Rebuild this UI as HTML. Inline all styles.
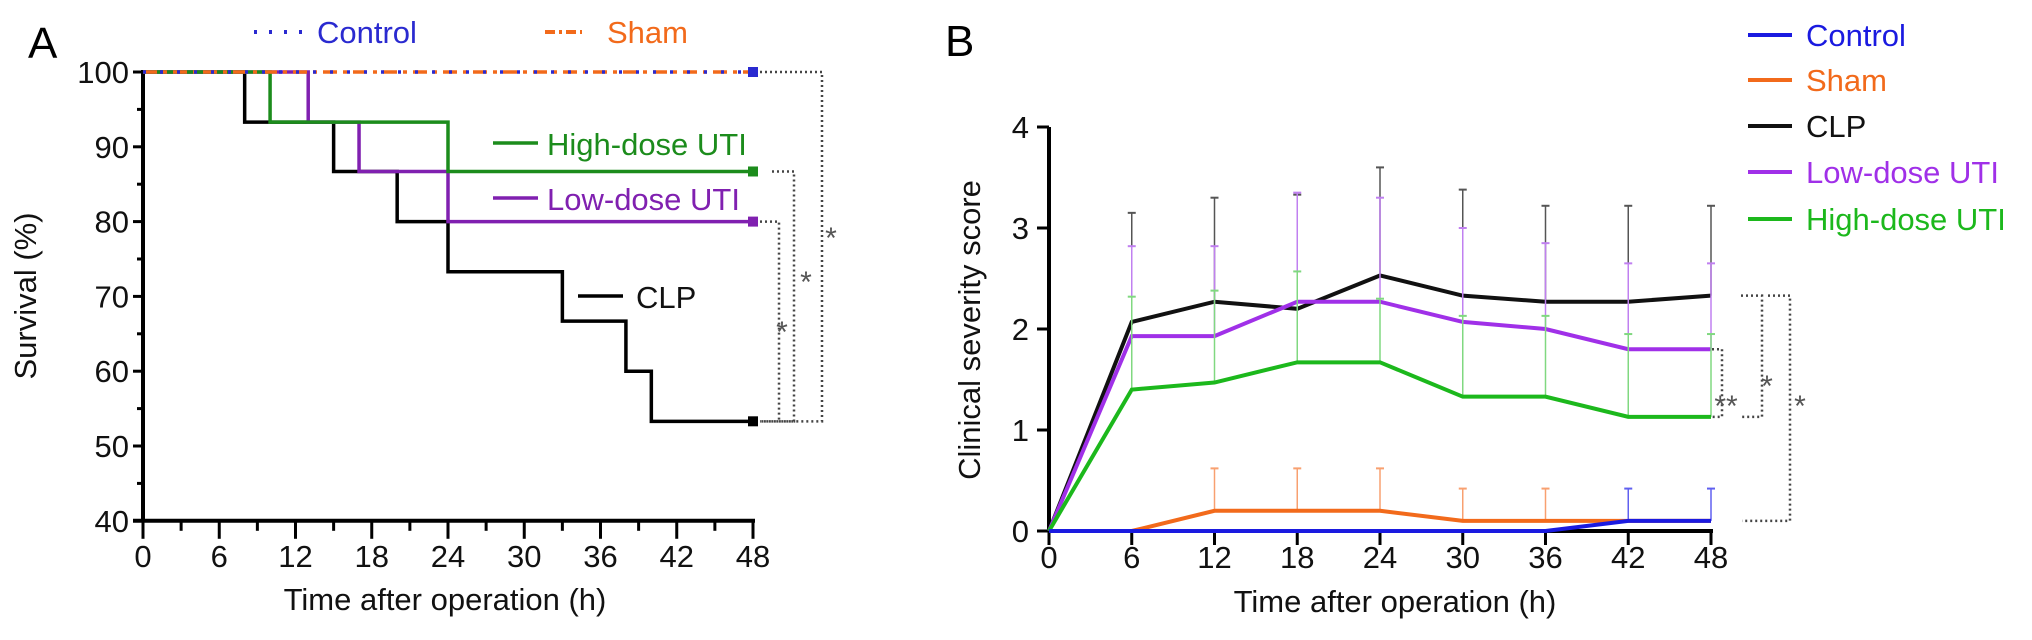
<!DOCTYPE html>
<html><head><meta charset="utf-8"><style>
body{margin:0;background:#fff;}
svg{display:block;font-family:"Liberation Sans",sans-serif;}
</style></head><body>
<svg id="c" width="2032" height="640" xmlns="http://www.w3.org/2000/svg"></svg>
<script>
// Panel A data
const aTimes = [0,6,12,18,24,30,36,42,48];
const aTicksY = [40,50,60,70,80,90,100];
const clpSteps = [[0,100],[8,93.3],[15,86.7],[20,80],[24,73.3],[33,66.7],[38,60],[40,53.3],[48,53.3]];
const highSteps = [[0,100],[10,93.3],[24,86.7],[48,86.7]];
const lowSteps = [[0,100],[13,93.3],[17,86.7],[24,80],[48,80]];
const ctrlSteps = [[0,100],[48,100]];
// Panel B data
const bTimes = [0,6,12,18,24,30,36,42,48];
const bTicksY = [0,1,2,3,4];
const bCLP = [0,2.07,2.27,2.2,2.53,2.33,2.27,2.27,2.33];
const bCLPerr = [0,3.15,3.3,3.33,3.6,3.38,3.22,3.22,3.22];
const bLow = [0,1.93,1.93,2.27,2.27,2.07,2.0,1.8,1.8];
const bLowErr = [0,2.82,2.82,3.35,3.3,3.0,2.85,2.65,2.65];
const bHigh = [0,1.4,1.47,1.67,1.67,1.33,1.33,1.13,1.13];
const bHighErr = [0,2.32,2.38,2.57,2.3,2.13,2.13,1.95,1.95];
const bSham = [0,0,0.2,0.2,0.2,0.1,0.1,0.1,0.1];
const bShamErr = [0,0,0.62,0.62,0.62,0.42,0.42,0.1,0.1];
const bCtrl = [0,0,0,0,0,0,0,0.1,0.1];
const bCtrlErr = [0,0,0,0,0,0,0,0.42,0.42];

const svg=document.getElementById('c');
const NS='http://www.w3.org/2000/svg';
function el(tag,attrs,parent){const e=document.createElementNS(NS,tag);for(const k in attrs)e.setAttribute(k,attrs[k]);(parent||svg).appendChild(e);return e;}
function txt(s,x,y,size,fill,anchor,name,extra){const t=el('text',Object.assign({x:x,y:y,'font-size':size,fill:fill,'text-anchor':anchor||'start'},extra||{}));t.textContent=s;return t;}

// ---------- Panel A ----------
const ax=t=>143+t*(610/48), ay=v=>72+(100-v)*7.48;
const gA=el('g',{});
txt('A',28,58,44,'#000','start','panel-a-label');
el('line',{x1:ax(0),y1:ay(100)-2,x2:ax(0),y2:ay(40),stroke:'#000','stroke-width':4},gA);
el('line',{x1:ax(0)-10,y1:ay(40),x2:ax(48)+2,y2:ay(40),stroke:'#000','stroke-width':4},gA);
aTicksY.forEach(v=>{el('line',{x1:ax(0)-10,y1:ay(v),x2:ax(0),y2:ay(v),stroke:'#000','stroke-width':3},gA);
 txt(String(v),ax(0)-14,ay(v)+11,31,'#111','end','y-tick-label-a');
 if(v<100) el('line',{x1:ax(0)-6,y1:ay(v+5),x2:ax(0),y2:ay(v+5),stroke:'#000','stroke-width':3},gA);});
aTimes.forEach(t=>{el('line',{x1:ax(t),y1:ay(40),x2:ax(t),y2:ay(40)+18,stroke:'#000','stroke-width':3},gA);
 if(t<48) el('line',{x1:ax(t+3),y1:ay(40),x2:ax(t+3),y2:ay(40)+10,stroke:'#000','stroke-width':3},gA);
 txt(String(t),ax(t),567,31,'#111','middle','x-tick-label-a');});
txt('Time after operation (h)',445,610,31,'#111','middle','x-axis-title-a');
txt('Survival (%)',0,0,31,'#111','middle','y-axis-title-a',{transform:'translate(36,296) rotate(-90)'});
function stepPath(s,f){let d='M'+ax(s[0][0])+','+ay(s[0][1]);for(let i=1;i<s.length;i++){d+=' H'+ax(s[i][0])+' V'+ay(s[i][1]);}return d;}
function drawStep(s,color,name,dash){const p=el('path',{d:stepPath(s),fill:'none',stroke:color,'stroke-width':3.5,'stroke-dasharray':dash||'none'},gA);
 const l=s[s.length-1];el('rect',{x:ax(l[0])-5,y:ay(l[1])-5,width:10,height:10,fill:color},gA);}
drawStep(clpSteps,'#000','clp-survival-line');
drawStep(lowSteps,'#8020b0','low-dose-survival-line');
drawStep(highSteps,'#1c8c1c','high-dose-survival-line');
drawStep(ctrlSteps,'#f26a1b','sham-survival-line','14,6,4,6');
drawStep(ctrlSteps,'#2a2ad0','control-survival-line','3,14');
// legend A
el('line',{x1:254,y1:32,x2:304,y2:32,stroke:'#2a2ad0','stroke-width':4,'stroke-dasharray':'3,12'});
txt('Control',317,43,31,'#2a2ad0','start','legend-control-a');
el('line',{x1:545,y1:32,x2:582,y2:32,stroke:'#f26a1b','stroke-width':4,'stroke-dasharray':'10,4,3,4'});
txt('Sham',607,43,31,'#f26a1b','start','legend-sham-a');
el('line',{x1:493,y1:143,x2:538,y2:143,stroke:'#1c8c1c','stroke-width':3.5});
txt('High-dose UTI',547,155,31,'#1c8c1c','start','legend-high-dose-a');
el('line',{x1:493,y1:198,x2:538,y2:198,stroke:'#8020b0','stroke-width':3.5});
txt('Low-dose UTI',547,210,31,'#8020b0','start','legend-low-dose-a');
el('line',{x1:578,y1:296,x2:623,y2:296,stroke:'#000','stroke-width':3.5});
txt('CLP',636,308,31,'#111','start','legend-clp-a');
// significance brackets A
const dot={fill:'none',stroke:'#444','stroke-width':2.5,'stroke-dasharray':'2,3'};
el('path',Object.assign({d:`M760,${ay(100)} H822 V${ay(53.3)} H760`},dot));
el('path',Object.assign({d:`M772,${ay(86.7)} H794 V${ay(53.3)} H760`},dot));
el('path',Object.assign({d:`M760,${ay(80)} H779 V${ay(53.3)}`},dot));
txt('*',831,248,30,'#555','middle','sig-star-a1');
txt('*',806,292,30,'#555','middle','sig-star-a2');
txt('*',782,342,30,'#555','middle','sig-star-a3');

// ---------- Panel B ----------
const bx=t=>1049+t*(662/48), by=v=>531-v*101;
const gB=el('g',{});
txt('B',945,56,44,'#000','start','panel-b-label');
el('line',{x1:bx(0),y1:by(4),x2:bx(0),y2:by(0),stroke:'#000','stroke-width':4},gB);
el('line',{x1:bx(0),y1:by(0),x2:bx(48)+2,y2:by(0),stroke:'#000','stroke-width':4},gB);
bTicksY.forEach(v=>{el('line',{x1:bx(0)-12,y1:by(v),x2:bx(0),y2:by(v),stroke:'#000','stroke-width':3},gB);
 txt(String(v),bx(0)-20,by(v)+11,31,'#111','end','y-tick-label-b');});
bTimes.forEach(t=>{el('line',{x1:bx(t),y1:by(0),x2:bx(t),y2:by(0)+14,stroke:'#000','stroke-width':3},gB);
 txt(String(t),bx(t),568,31,'#111','middle','x-tick-label-b');});
txt('Time after operation (h)',1395,612,31,'#111','middle','x-axis-title-b');
txt('Clinical severity score',0,0,31,'#111','middle','y-axis-title-b',{transform:'translate(980,330) rotate(-90)'});
function series(vals,err,color,name,ecolor){
 vals.forEach((v,i)=>{if(err[i]>v){el('line',{x1:bx(bTimes[i]),y1:by(v),x2:bx(bTimes[i]),y2:by(err[i]),stroke:ecolor,'stroke-width':1.5},gB);
  el('line',{x1:bx(bTimes[i])-4,y1:by(err[i]),x2:bx(bTimes[i])+4,y2:by(err[i]),stroke:ecolor,'stroke-width':2},gB);}});
 const p=el('polyline',{points:vals.map((v,i)=>bx(bTimes[i])+','+by(v)).join(' '),fill:'none',stroke:color,'stroke-width':4},gB);
 }
series(bCLP,bCLPerr,'#111','clp-severity-line','#555');
series(bLow,bLowErr,'#a030e8','low-dose-severity-line','#c080f0');
series(bHigh,bHighErr,'#1cb81c','high-dose-severity-line','#80d880');
series(bSham,bShamErr,'#f26a1b','sham-severity-line','#f8a070');
series(bCtrl,bCtrlErr,'#1a1ae0','control-severity-line','#6060f0');
// legend B
[['Control','#1a1ae0'],['Sham','#f26a1b'],['CLP','#111'],['Low-dose UTI','#a030e8'],['High-dose UTI','#1cb81c']].forEach((d,i)=>{
 const y=[35,80,126,172,219][i];
 el('line',{x1:1748,y1:y,x2:1792,y2:y,stroke:d[1],'stroke-width':4});
 txt(d[0],1806,y+11,31,d[1],'start','legend-'+d[0].toLowerCase().replace(/ /g,'-')+'-b');});
// brackets B
el('path',Object.assign({d:`M1712,${by(1.8)} H1722 V${by(1.13)} H1712`},dot));
el('path',Object.assign({d:`M1741,${by(2.33)} H1762 V${by(1.13)} H1741`},dot));
el('path',Object.assign({d:`M1768,${by(2.33)} H1790 V${by(0.1)} H1742`},dot));
txt('**',1726,416,30,'#555','middle','sig-star-b1');
txt('*',1767,396,30,'#555','middle','sig-star-b2');
txt('*',1800,416,30,'#555','middle','sig-star-b3');
</script>
</body></html>
